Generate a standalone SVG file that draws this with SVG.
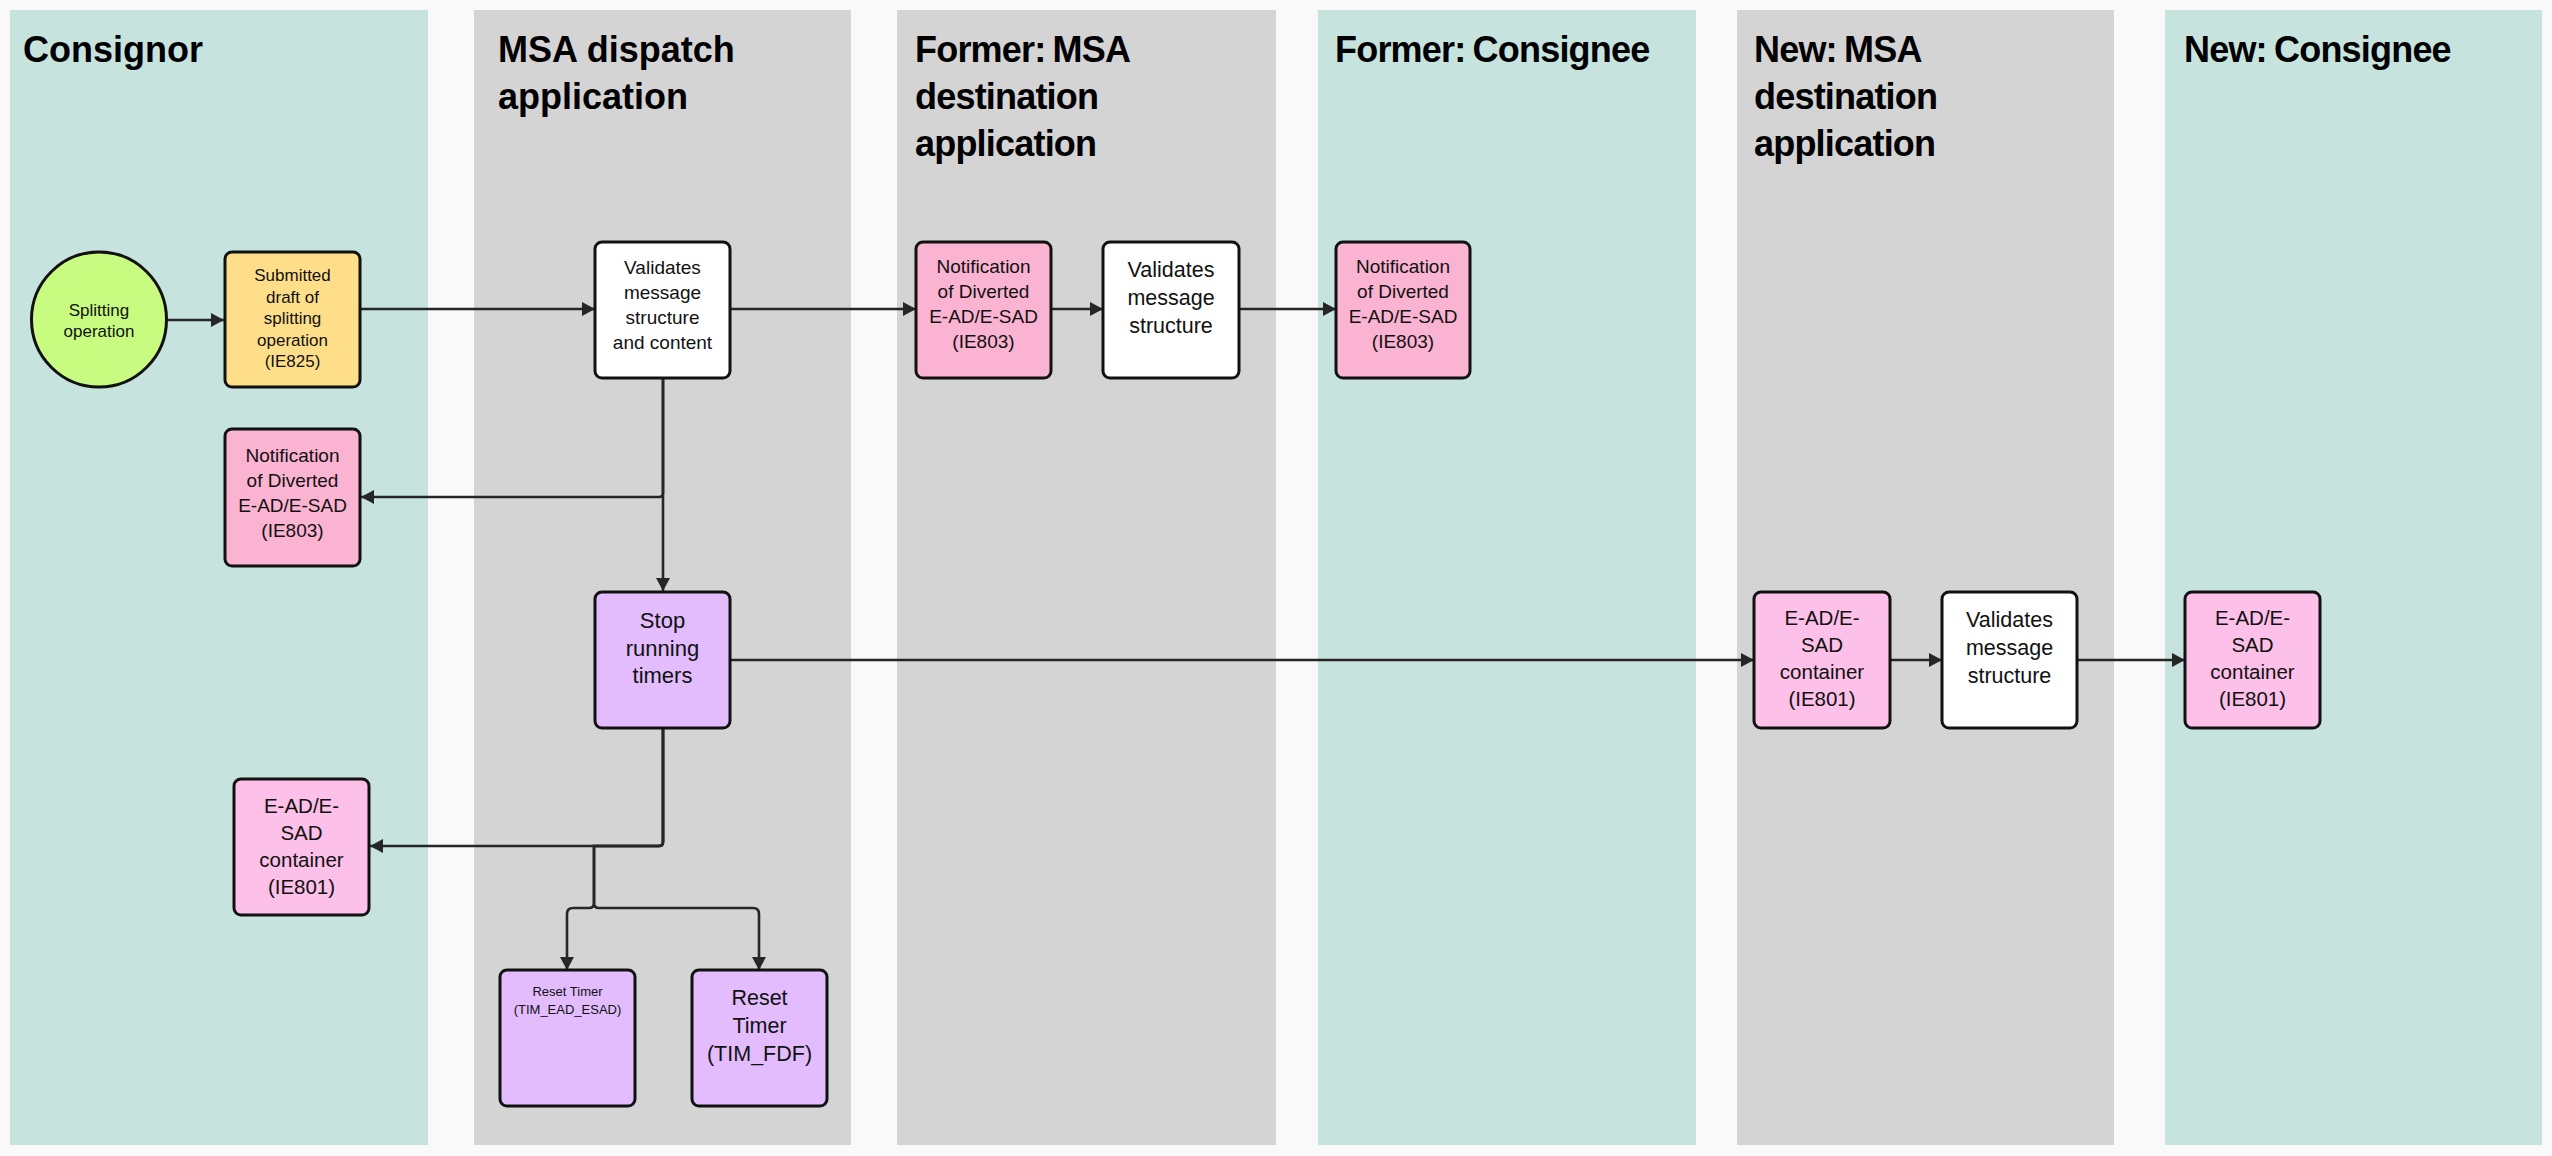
<svg xmlns="http://www.w3.org/2000/svg" width="2552" height="1156" viewBox="0 0 2552 1156">
<defs>
<style>
.lane-teal{fill:#c7e3de}
.lane-gray{fill:#d4d4d4}
.title{font-family:"Liberation Sans",Arial,sans-serif;font-weight:bold;font-size:36px;fill:#000}
.title.c{word-spacing:-2px;letter-spacing:-0.8px}
.box{stroke:#111;stroke-width:3}
.t{font-family:"Liberation Sans",Arial,sans-serif;fill:#111;text-anchor:middle}
.conn{fill:none;stroke:#262626;stroke-width:2.6}
.notif{fill:#fbb3d2}
.cont{fill:#fdc0e8}
.purple{fill:#e2bcfc}
.white{fill:#ffffff}
.yellow{fill:#ffde8a}
.green{fill:#c8fc80}
</style>
<marker id="arr" markerUnits="userSpaceOnUse" markerWidth="14" markerHeight="14" refX="13" refY="7" orient="auto">
<path d="M0,0 L13,7 L0,14 z" fill="#262626"/>
</marker>
</defs>
<rect x="0" y="0" width="2552" height="1156" fill="#f9f9f9"/>

<g id="lanes">
<g id="lane-consignor"><rect class="lane-teal" x="10" y="10" width="418" height="1135"/><text class="title" x="23" y="62">Consignor</text></g>
<g id="lane-msa-dispatch"><rect class="lane-gray" x="474" y="10" width="377" height="1135"/><text class="title" x="498" y="62">MSA dispatch<tspan x="498" dy="47">application</tspan></text></g>
<g id="lane-former-msa"><rect class="lane-gray" x="897" y="10" width="379" height="1135"/><text class="title c" x="915" y="62">Former: MSA<tspan x="915" dy="47">destination</tspan><tspan x="915" dy="47">application</tspan></text></g>
<g id="lane-former-consignee"><rect class="lane-teal" x="1318" y="10" width="378" height="1135"/><text class="title c" x="1335" y="62">Former: Consignee</text></g>
<g id="lane-new-msa"><rect class="lane-gray" x="1737" y="10" width="377" height="1135"/><text class="title c" x="1754" y="62">New: MSA<tspan x="1754" dy="47">destination</tspan><tspan x="1754" dy="47">application</tspan></text></g>
<g id="lane-new-consignee"><rect class="lane-teal" x="2165" y="10" width="377" height="1135"/><text class="title c" x="2184" y="62">New: Consignee</text></g>
</g>

<g id="connectors">
<path class="conn" d="M166.5,320 H224" marker-end="url(#arr)"/>
<path class="conn" d="M361,309 H595" marker-end="url(#arr)"/>
<path class="conn" d="M730,309 H916" marker-end="url(#arr)"/>
<path class="conn" d="M1051,309 H1103" marker-end="url(#arr)"/>
<path class="conn" d="M1239,309 H1336" marker-end="url(#arr)"/>
<path class="conn" d="M663,378 V493 Q663,497 659,497 H361" marker-end="url(#arr)"/>
<path class="conn" d="M663,378 V591" marker-end="url(#arr)"/>
<path class="conn" d="M730,660 H1754" marker-end="url(#arr)"/>
<path class="conn" d="M1890,660 H1942" marker-end="url(#arr)"/>
<path class="conn" d="M2077,660 H2185" marker-end="url(#arr)"/>
<path class="conn" d="M663,728 V842 Q663,846 659,846 H370" marker-end="url(#arr)"/>
<path class="conn" d="M663,728 V842 Q663,846 659,846 H594 V903 Q594,908 589,908 H573 Q567,908 567,914 V970" marker-end="url(#arr)"/>
<path class="conn" d="M663,728 V842 Q663,846 659,846 H594 V903 Q594,908 599,908 H753 Q759,908 759,914 V970" marker-end="url(#arr)"/>
</g>

<g id="node-splitting">
<circle class="box green" cx="99" cy="319.5" r="67.5"/>
<text class="t" font-size="17" x="99" y="316">Splitting<tspan x="99" dy="20.5">operation</tspan></text>
</g>
<g id="node-ie825">
<rect class="box yellow" x="225" y="252" width="135" height="135" rx="7"/>
<text class="t" font-size="17" x="292.5" y="281">Submitted<tspan x="292.5" dy="21.5">draft of</tspan><tspan x="292.5" dy="21.5">splitting</tspan><tspan x="292.5" dy="21.5">operation</tspan><tspan x="292.5" dy="21.5">(IE825)</tspan></text>
</g>
<g id="node-validate-content">
<rect class="box white" x="595" y="242" width="135" height="136" rx="7"/>
<text class="t" font-size="19" x="662.5" y="274">Validates<tspan x="662.5" dy="25">message</tspan><tspan x="662.5" dy="25">structure</tspan><tspan x="662.5" dy="25">and content</tspan></text>
</g>
<g id="node-ie803-consignor">
<rect class="box notif" x="225" y="429" width="135" height="137" rx="7"/>
<text class="t" font-size="19" x="292.5" y="461.5">Notification<tspan x="292.5" dy="25">of Diverted</tspan><tspan x="292.5" dy="25">E-AD/E-SAD</tspan><tspan x="292.5" dy="25">(IE803)</tspan></text>
</g>
<g id="node-stop-timers">
<rect class="box purple" x="595" y="592" width="135" height="136" rx="7"/>
<text class="t" font-size="22" x="662.5" y="628">Stop<tspan x="662.5" dy="27.5">running</tspan><tspan x="662.5" dy="27.5">timers</tspan></text>
</g>
<g id="node-ie801-consignor">
<rect class="box cont" x="234" y="779" width="135" height="136" rx="7"/>
<text class="t" font-size="20.5" x="301.5" y="813">E-AD/E-<tspan x="301.5" dy="27">SAD</tspan><tspan x="301.5" dy="27">container</tspan><tspan x="301.5" dy="27">(IE801)</tspan></text>
</g>
<g id="node-reset-ead">
<rect class="box purple" x="500" y="970" width="135" height="136" rx="7"/>
<text class="t" font-size="13" x="567.5" y="996">Reset Timer<tspan x="567.5" dy="18">(TIM_EAD_ESAD)</tspan></text>
</g>
<g id="node-reset-fdf">
<rect class="box purple" x="692" y="970" width="135" height="136" rx="7"/>
<text class="t" font-size="21.5" x="759.5" y="1005">Reset<tspan x="759.5" dy="28">Timer</tspan><tspan x="759.5" dy="28">(TIM_FDF)</tspan></text>
</g>
<g id="node-ie803-former-msa">
<rect class="box notif" x="916" y="242" width="135" height="136" rx="7"/>
<text class="t" font-size="19" x="983.5" y="273">Notification<tspan x="983.5" dy="25">of Diverted</tspan><tspan x="983.5" dy="25">E-AD/E-SAD</tspan><tspan x="983.5" dy="25">(IE803)</tspan></text>
</g>
<g id="node-validate-former">
<rect class="box white" x="1103" y="242" width="136" height="136" rx="7"/>
<text class="t" font-size="21.5" x="1171" y="277">Validates<tspan x="1171" dy="28">message</tspan><tspan x="1171" dy="28">structure</tspan></text>
</g>
<g id="node-ie803-former-consignee">
<rect class="box notif" x="1336" y="242" width="134" height="136" rx="7"/>
<text class="t" font-size="19" x="1403" y="273">Notification<tspan x="1403" dy="25">of Diverted</tspan><tspan x="1403" dy="25">E-AD/E-SAD</tspan><tspan x="1403" dy="25">(IE803)</tspan></text>
</g>
<g id="node-ie801-new-msa">
<rect class="box cont" x="1754" y="592" width="136" height="136" rx="7"/>
<text class="t" font-size="20.5" x="1822" y="625">E-AD/E-<tspan x="1822" dy="27">SAD</tspan><tspan x="1822" dy="27">container</tspan><tspan x="1822" dy="27">(IE801)</tspan></text>
</g>
<g id="node-validate-new">
<rect class="box white" x="1942" y="592" width="135" height="136" rx="7"/>
<text class="t" font-size="21.5" x="2009.5" y="627">Validates<tspan x="2009.5" dy="28">message</tspan><tspan x="2009.5" dy="28">structure</tspan></text>
</g>
<g id="node-ie801-new-consignee">
<rect class="box cont" x="2185" y="592" width="135" height="136" rx="7"/>
<text class="t" font-size="20.5" x="2252.5" y="625">E-AD/E-<tspan x="2252.5" dy="27">SAD</tspan><tspan x="2252.5" dy="27">container</tspan><tspan x="2252.5" dy="27">(IE801)</tspan></text>
</g>
</svg>
